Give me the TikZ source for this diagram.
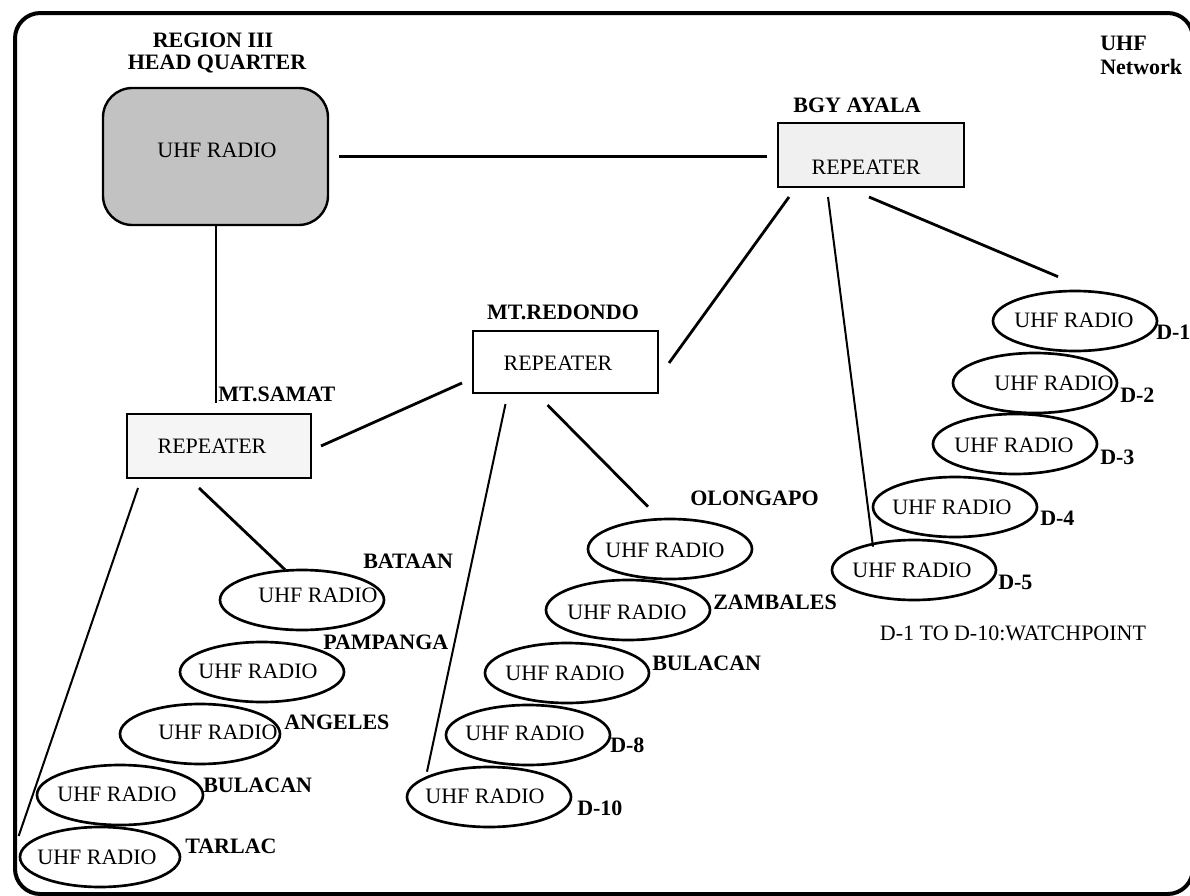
\documentclass[tikz,border=0pt]{standalone}
\usepackage{fontspec}
\setmainfont{Liberation Serif}
\usetikzlibrary{shapes.geometric,calc}

\begin{document}
\begin{tikzpicture}[x=0.75pt,y=-0.75pt,
  every node/.style={font=\fontsize{16.5}{18}\selectfont, inner sep=0pt},
  lbl/.style={font=\fontsize{16.5}{18}\selectfont\bfseries},
  radio/.style={draw, ellipse, line width=2pt, minimum width=164*0.75pt, minimum height=60*0.75pt},
  repbox/.style={draw, rectangle, line width=1.5pt, minimum width=186*0.75pt, minimum height=64*0.75pt},
  hqbox/.style={draw, rectangle, rounded corners=22pt, line width=1.8pt, fill=black!24,
    minimum width=225*0.75pt, minimum height=137*0.75pt},
  link/.style={line width=2.1pt},
  thinlink/.style={line width=1.5pt},
]
\useasboundingbox (0,0) rectangle (1190,896);
\clip (0,0) rectangle (1190,896);
\fill[white] (0,0) rectangle (1190,896);

% outer frame
\draw[line width=3pt, rounded corners=19pt] (15,13) rectangle (1193,894);

% network title
\node[lbl, anchor=west] (ttl1) at (1100,43) {UHF};
\node[lbl, anchor=west] (ttl2) at (1100,67) {Network};

% head quarter
\node[lbl] (hql1) at (213,40) {REGION III};
\node[lbl] (hql2) at (217,64) {HEAD QUARTER};
\node[hqbox] (hq) at (215.5,156.5) {};
\node (hqt) at (217,150) {UHF RADIO};

% repeaters
\node[repbox, fill=black!6] (bgy) at (871,155) {};
\node (bgyt) at (866,167) {REPEATER};
\node[lbl] (bgyl) at (857,105) {BGY AYALA};

\node[repbox, minimum width=185*0.75pt, minimum height=62*0.75pt] (red) at (565.5,362) {};
\node (redt) at (558,363) {REPEATER};
\node[lbl] (redl) at (563,312) {MT.REDONDO};

\node[repbox, fill=black!4, minimum width=184*0.75pt] (sam) at (219,446) {};
\node (samt) at (212,446) {REPEATER};
\node[lbl, anchor=west] (saml) at (218,394) {MT.SAMAT};

% watchpoints D-1 ... D-5
\node[radio] (d1) at (1075,321) {};
\node (d1t) at (1074,320) {UHF RADIO};
\node[lbl, anchor=west] (d1l) at (1156,332) {D-1};
\node[radio] (d2) at (1035,383) {};
\node (d2t) at (1054,383) {UHF RADIO};
\node[lbl, anchor=west] (d2l) at (1120,395) {D-2};
\node[radio] (d3) at (1015,444) {};
\node (d3t) at (1014,445) {UHF RADIO};
\node[lbl, anchor=west] (d3l) at (1100,457) {D-3};
\node[radio] (d4) at (955,507) {};
\node (d4t) at (952,507) {UHF RADIO};
\node[lbl, anchor=west] (d4l) at (1040,518) {D-4};
\node[radio] (d5) at (914,570) {};
\node (d5t) at (912,570) {UHF RADIO};
\node[lbl, anchor=west] (d5l) at (998,582) {D-5};
\node (note) at (1013,633) {D-1 TO D-10:WATCHPOINT};

% stations under Mt. Redondo
\node[radio] (olo) at (670,549) {};
\node (olot) at (665,550) {UHF RADIO};
\node[lbl, anchor=west] (olol) at (690,498) {OLONGAPO};
\node[radio] (zam) at (628,610) {};
\node (zamt) at (627,612) {UHF RADIO};
\node[lbl, anchor=west] (zaml) at (713,602) {ZAMBALES};
\node[radio] (bum) at (567,673) {};
\node (bumt) at (565,673) {UHF RADIO};
\node[lbl, anchor=west] (buml) at (652,663) {BULACAN};
\node[radio] (d8) at (528,735) {};
\node (d8t) at (525,733) {UHF RADIO};
\node[lbl, anchor=west] (d8l) at (610,745) {D-8};
\node[radio] (d10) at (489,797) {};
\node (d10t) at (485,796) {UHF RADIO};
\node[lbl, anchor=west] (d10l) at (577,808) {D-10};

% stations under Mt. Samat
\node[radio] (bat) at (302,600) {};
\node (batt) at (318,595) {UHF RADIO};
\node[lbl, anchor=west] (batl) at (363,561) {BATAAN};
\node[radio] (pam) at (262,672) {};
\node (pamt) at (258,671) {UHF RADIO};
\node[lbl, anchor=west] (paml) at (323,642) {PAMPANGA};
\node[radio, minimum width=160*0.75pt] (ang) at (200,734) {};
\node (angt) at (218,732) {UHF RADIO};
\node[lbl, anchor=west] (angl) at (284,722) {ANGELES};
\node[radio, minimum width=166*0.75pt] (bul) at (120,795) {};
\node (bult) at (117,794) {UHF RADIO};
\node[lbl, anchor=west] (bull) at (203,785) {BULACAN};
\node[radio, minimum width=160*0.75pt] (tar) at (100,857) {};
\node (tart) at (97,857) {UHF RADIO};
\node[lbl, anchor=west] (tarl) at (185,846) {TARLAC};

% links
\draw[link] ([xshift=7.5pt]hq.east) -- ([xshift=-7.5pt]hq.east -| bgy.west);
\draw[thinlink] (hq.south) -- ($(hq.south |- sam.north)+(0,-10)$);
\draw[link] ([shift={(12,9)}]bgy.south west) -- ([shift={(10,1)}]red.east);
\draw[thinlink] ([shift={(51,9)}]bgy.south west) -- ([shift={(-41,8)}]d5.north);
\draw[link] ([shift={(92,9)}]bgy.south west) -- ([shift={(-17,-13)}]d1.north);
\draw[link] ([shift={(-10,21)}]red.west) -- ([shift={(9,0)}]sam.east);
\draw[thinlink] ([shift={(-60,10)}]red.south) -- ([shift={(-62,6)}]d10.north);
\draw[link] ([shift={(-18,11)}]red.south) -- ([shift={(-22,-11)}]olo.north);
\draw[thinlink] ([shift={(12,9)}]sam.south west) -- ([shift={(0,-21)}]tar.west);
\draw[link] ([shift={(73,9)}]sam.south west) -- ([shift={(-17,1)}]bat.north);
\end{tikzpicture}
\end{document}
